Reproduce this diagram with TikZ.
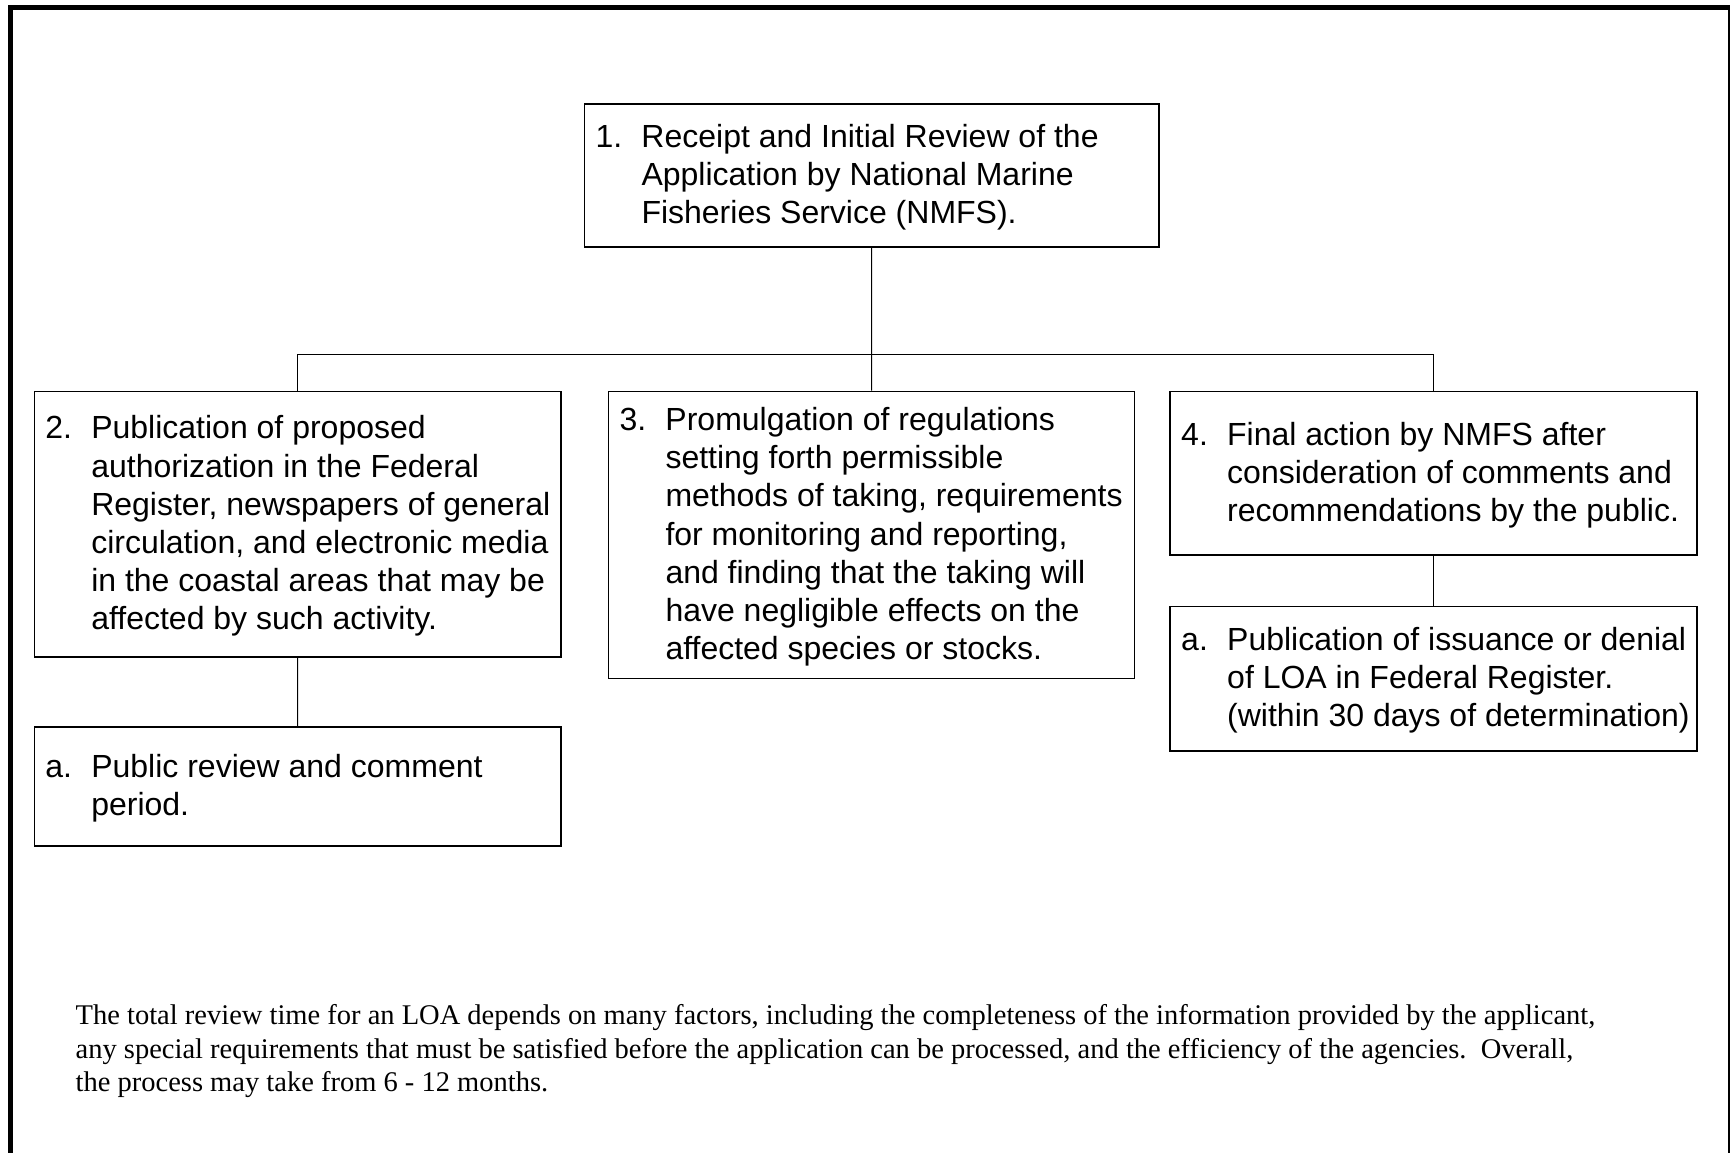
\documentclass[tikz,border=0pt]{standalone}
\usepackage{fontspec}
\setmainfont{Liberation Serif}
\newfontfamily\arialfont{Liberation Sans}
\usepackage{array}
\usepackage{calc}
\newcommand\bxt[2]{\raisebox{0pt}[\height+5pt][\depth]{\makebox[#1][l]{\hspace*{11pt}\begin{tabular}{@{}p{46pt}@{}l@{}}#2\end{tabular}}}}
\begin{document}
\begin{tikzpicture}[x=1pt,y=-1pt,
  boxn/.style={draw, line width=1.6pt, rectangle, inner sep=0pt, anchor=north west,
    font=\arialfont\fontsize{32}{38.2}\selectfont},
  conn/.style={line width=1pt},
  frame/.style={line width=5pt, line join=miter},
  foot/.style={inner sep=0pt, anchor=base west, font=\fontsize{28.5}{33.6}\selectfont}]
\clip (0,0) rectangle (1730,1153);
\fill[white] (0,0) rectangle (1730,1153);
% outer frame (bottom edge lies outside the picture)
\draw[frame] (10,1180) -- (10,7.5) -- (1730,7.5) -- (1730,1180);

\node[boxn, minimum width=574.3pt, minimum height=142.7pt] (b1) at (583.7,103.3)
  {\bxt{574.3pt}{1.&Receipt and Initial Review of the\\&Application by National Marine\\&Fisheries Service (NMFS).}};
\node[boxn, minimum width=526.5pt, minimum height=265.6pt] (b2) at (33.5,390.7)
  {\bxt{526.5pt}{2.&Publication of proposed\\&authorization in the Federal\\&Register, newspapers of general\\&circulation, and electronic media\\&in the coastal areas that may be\\&affected by such activity.}};
\node[boxn, minimum width=526.1pt, minimum height=287pt] (b3) at (607.7,390.7)
  {\bxt{526.1pt}{3.&Promulgation of regulations\\&setting forth permissible\\&methods of taking, requirements\\&for monitoring and reporting,\\&and finding that the taking will\\&have negligible effects on the\\&affected species or stocks.}};
\node[boxn, minimum width=527pt, minimum height=163.6pt] (b4) at (1169.4,390.7)
  {\bxt{527pt}{4.&Final action by NMFS after\\&consideration of comments and\\&recommendations by the public.}};
\node[boxn, minimum width=526.6pt, minimum height=119pt] (b2a) at (33.5,726)
  {\bxt{526.6pt}{a.&Public review and comment\\&period.}};
\node[boxn, minimum width=527pt, minimum height=144.3pt] (b4a) at (1169.4,605.7)
  {\bxt{527pt}{a.&Publication of issuance or denial\\&of LOA in Federal Register.\\&(within 30 days of determination)}};

\coordinate (j) at (870.8,354.5);
\draw[conn] (b1.south) -- (b3.north);
\draw[conn] (b2.north) -- (b2.north |- j) -- (b4.north |- j) -- (b4.north);
\draw[conn] (b2.south) -- (b2a.north);
\draw[conn] (b4.south) -- (b4a.north);

\node[foot] (note) at (75.5,1024.5)
  {\begin{tabular}[t]{@{}l@{}}The total review time for an LOA depends on many factors, including the completeness of the information provided by the applicant,\\
  any special requirements that must be satisfied before the application can be processed, and the efficiency of the agencies.\ \ Overall,\\
  the process may take from 6 - 12 months.\end{tabular}};
\end{tikzpicture}
\end{document}
